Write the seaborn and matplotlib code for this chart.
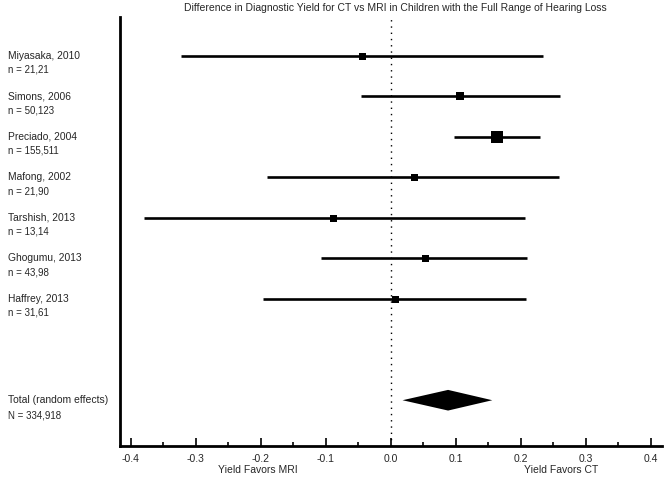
import matplotlib
matplotlib.use("Agg")
import matplotlib.pyplot as plt
import matplotlib.transforms as mtransforms
from matplotlib.ticker import MultipleLocator
import numpy as np
import pandas as pd
import seaborn as sns

studies = ["Miyasaka, 2010", "Simons, 2006", "Preciado, 2004", "Mafong, 2002",
           "Tarshish, 2013", "Ghogumu, 2013", "Haffrey, 2013"]
n_labels = ["n = 21,21", "n = 50,123", "n = 155,511", "n = 21,90",
            "n = 13,14", "n = 43,98", "n = 31,61"]
effect = [-0.044, 0.107, 0.163, 0.035, -0.089, 0.052, 0.006]
ci_low = [-0.323, -0.046, 0.097, -0.190, -0.379, -0.108, -0.196]
ci_high = [0.234, 0.260, 0.229, 0.259, 0.206, 0.209, 0.208]
weight = [7, 8.5, 12, 7, 7, 7, 7]  # square size in px

total_label = "Total (random effects)"
total_n = "N = 334,918"
total_effect = 0.088
total_low = 0.018
total_high = 0.156

tick_values = [-0.4, -0.3, -0.2, -0.1, 0.0, 0.1, 0.2, 0.3, 0.4]
tick_labels = ["-0.4", "-0.3", "-0.2", "-0.1", "0.0", "0.1", "0.2", "0.3", "0.4"]

title = "Difference in Diagnostic Yield for CT vs MRI in Children with the Full Range of Hearing Loss"
xlabel_left = "Yield Favors MRI"
xlabel_right = "Yield Favors CT"

sns.set_theme(style="white")
plt.rcParams['font.family'] = ['Liberation Sans', 'DejaVu Sans']

fig = plt.figure(figsize=(6.66, 4.78), dpi=100)
ax = fig.add_axes([120/666, 1-446/478, 542/666, (446-17)/478])

pos = np.arange(len(studies))
total_pos = 8.5
df = pd.DataFrame({"study": studies, "effect": effect, "lo": ci_low,
                   "hi": ci_high, "w": weight, "pos": pos})

ax.hlines(df["pos"], df["lo"], df["hi"], color="black", lw=1.9, zorder=2)
for _, r in df.iterrows():
    sns.scatterplot(x=[r["effect"]], y=[r["pos"]], marker="s", color="black",
                    s=(r["w"] * 0.72) ** 2, edgecolor="black", linewidth=0,
                    ax=ax, zorder=3, legend=False)

# diamond for total
ax.fill([total_low, total_effect, total_high, total_effect],
        [total_pos, total_pos - 0.255, total_pos, total_pos + 0.255],
        color="black", lw=0, zorder=3)

ax.axvline(0, color="black", lw=1.0, ls=(0, (1, 3.5)), zorder=1)

ax.set_xlim(-0.4165, 0.417)
ax.set_ylim(9.63, -0.96)
ax.set_yticks([])
ax.xaxis.set_minor_locator(MultipleLocator(0.05))
ax.set_xticks(tick_values)
ax.set_xticklabels(tick_labels, fontsize=7.5)
ax.tick_params(axis="x", which="major", direction="in", length=6, width=1.4, bottom=True, pad=6)
ax.tick_params(axis="x", which="minor", direction="in", length=3, width=1.4, bottom=True)

for side in ["top", "right"]:
    ax.spines[side].set_visible(False)
for side in ["left", "bottom"]:
    ax.spines[side].set_color("black")
    ax.spines[side].set_linewidth(2)

trans = mtransforms.blended_transform_factory(fig.transFigure, ax.transData)
for i, (s, n) in enumerate(zip(studies, n_labels)):
    ax.text(8/666, pos[i], s, transform=trans, fontsize=7.4, va="center", ha="left")
    ax.text(8/666, pos[i] + 0.34, n, transform=trans, fontsize=7, va="center", ha="left")
ax.text(8/666, total_pos - 0.01, total_label, transform=trans, fontsize=7.5, va="center", ha="left")
ax.text(8/666, total_pos + 0.38, total_n, transform=trans, fontsize=7, va="center", ha="left")

fig.text(395/666, 1-8/478, title, fontsize=7.5, ha="center", va="center")
fig.text(258/666, 1-470/478, xlabel_left, fontsize=7.5, ha="center", va="center")
fig.text(561/666, 1-470/478, xlabel_right, fontsize=7.5, ha="center", va="center")

fig.savefig("out.png", dpi=100)
